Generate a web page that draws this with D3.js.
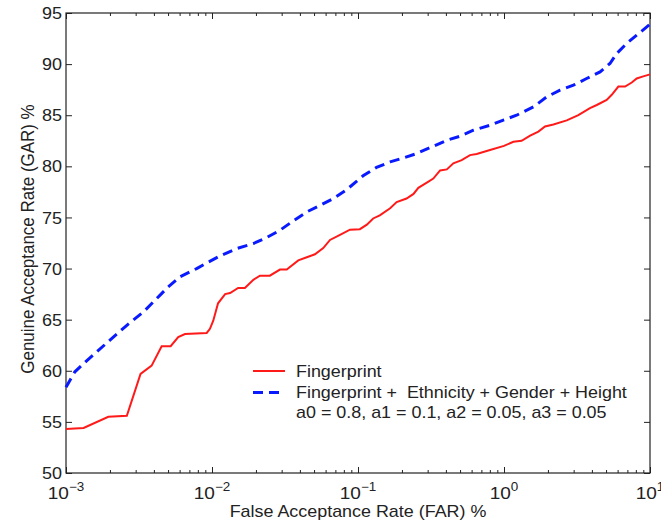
<!DOCTYPE html>
<html>
<head>
<meta charset="utf-8">
<script src="https://cdn.jsdelivr.net/npm/d3@7"></script>
<style>
  body { margin: 0; background: #fff; }
  text { font-family: "Liberation Sans", Arial, sans-serif; fill: #222; }
</style>
</head>
<body>
<div id="chart"></div>
<script>
// Fingerprint only (FAR %, GAR %)
const fpFar = [0.001, 0.00132, 0.00195, 0.00261, 0.00324, 0.00386, 0.00452, 0.00521, 0.00587, 0.00653,
  0.0092, 0.00968, 0.0102, 0.0110, 0.0123, 0.0133, 0.0151, 0.0168, 0.0192, 0.0213,
  0.0249, 0.0292, 0.0325, 0.0390, 0.0446, 0.0507, 0.0578, 0.0643, 0.0753, 0.0881,
  0.103, 0.115, 0.127, 0.141, 0.166, 0.184, 0.215, 0.240, 0.259, 0.296,
  0.328, 0.365, 0.406, 0.450, 0.513, 0.585, 0.650, 0.802, 1.0, 1.16,
  1.32, 1.51, 1.72, 1.91, 2.18, 2.69, 3.23, 3.88, 4.32, 5.05,
  5.47, 6.07, 6.75, 7.50, 8.11, 8.99, 10];
const fpGar = [54.3, 54.4, 55.5, 55.6, 59.7, 60.5, 62.4, 62.4, 63.3, 63.6,
  63.7, 64.1, 64.9, 66.6, 67.5, 67.6, 68.1, 68.1, 68.9, 69.3,
  69.3, 69.9, 69.9, 70.8, 71.1, 71.4, 72.0, 72.8, 73.3, 73.8,
  73.85, 74.3, 74.9, 75.2, 75.9, 76.5, 76.85, 77.3, 77.9, 78.4,
  78.8, 79.6, 79.7, 80.3, 80.6, 81.1, 81.2, 81.6, 82.0, 82.4,
  82.5, 83.0, 83.4, 83.9, 84.1, 84.5, 85.0, 85.7, 86.0, 86.5,
  87.0, 87.8, 87.8, 88.2, 88.6, 88.8, 89.0];

// Fingerprint + soft biometrics
const softFar = [0.001, 0.00115, 0.00139, 0.00200, 0.00261, 0.00339, 0.00441, 0.00501, 0.00604, 0.00785,
  0.0092, 0.0114, 0.0148, 0.0192, 0.0237, 0.0292, 0.0352, 0.0446, 0.055, 0.0678,
  0.0838, 0.109, 0.134, 0.166, 0.204, 0.252, 0.328, 0.406, 0.500, 0.617,
  0.802, 1.0, 1.22, 1.59, 1.96, 2.42, 2.99, 3.68, 4.55, 5.32,
  5.92, 6.92, 8.11, 10];
const softGar = [58.4, 59.9, 61.0, 63.0, 64.45, 65.75, 67.4, 68.2, 69.2, 70.0,
  70.55, 71.25, 71.96, 72.45, 73.03, 73.75, 74.56, 75.54, 76.19, 76.85,
  77.73, 79.1, 79.9, 80.43, 80.82, 81.25, 81.97, 82.55, 82.95, 83.53,
  84.02, 84.55, 85.0, 85.81, 86.79, 87.45, 87.94, 88.59, 89.24, 90.06,
  91.04, 92.02, 92.83, 93.9];

const xMajor = [0.001, 0.01, 0.1, 1, 10];
const xExp = ["\u22123", "\u22122", "\u22121", "0", "1"];
const yTicks = [50, 55, 60, 65, 70, 75, 80, 85, 90, 95];
const legendLabels = ["Fingerprint", "Fingerprint +  Ethnicity + Gender + Height", "a0 = 0.8, a1 = 0.1, a2 = 0.05, a3 = 0.05"];

const width = 661, height = 523;
const margin = { top: 13, right: 11, bottom: 50, left: 66 };
const iw = width - margin.left - margin.right;
const ih = height - margin.top - margin.bottom;
const stretch = 1.12; // the reference text is a bit wide

const svg = d3.select("#chart").append("svg")
    .attr("width", width)
    .attr("height", height);

const g = svg.append("g")
    .attr("transform", `translate(${margin.left},${margin.top})`);

const x = d3.scaleLog().domain([0.001, 10]).range([0, iw]);
const y = d3.scaleLinear().domain([50, 95]).range([ih, 0]);

// minor ticks for the log axis
const xMinor = [];
xMajor.slice(0, -1).forEach(m => {
    for (let k = 2; k <= 9; k++) xMinor.push(m * k);
});

function styleAxis(sel) {
    sel.select(".domain").remove();
    sel.selectAll("line").attr("stroke", "#222").attr("stroke-width", 1);
}

// bottom + top axes
g.append("g").attr("transform", `translate(0,${ih})`)
    .call(d3.axisBottom(x).tickValues(xMajor).tickSize(-6).tickFormat(""))
    .call(styleAxis);
g.append("g").attr("transform", `translate(0,${ih})`)
    .call(d3.axisBottom(x).tickValues(xMinor).tickSize(-3).tickFormat(""))
    .call(styleAxis);
g.append("g")
    .call(d3.axisTop(x).tickValues(xMajor).tickSize(-6).tickFormat(""))
    .call(styleAxis);
g.append("g")
    .call(d3.axisTop(x).tickValues(xMinor).tickSize(-3).tickFormat(""))
    .call(styleAxis);

// left + right axes
g.append("g")
    .call(d3.axisLeft(y).tickValues(yTicks).tickSize(-6).tickFormat(""))
    .call(styleAxis);
g.append("g").attr("transform", `translate(${iw},0)`)
    .call(d3.axisRight(y).tickValues(yTicks).tickSize(-6).tickFormat(""))
    .call(styleAxis);

// y tick labels
yTicks.forEach(v => {
    g.append("text")
        .attr("transform", `translate(-4,${y(v)}) scale(1.06,1)`)
        .attr("dy", "0.36em")
        .attr("text-anchor", "end")
        .attr("font-size", 17)
        .text(v);
});

// x tick labels 10^n
xMajor.forEach((v, i) => {
    const t = g.append("text")
        .attr("transform", `translate(${x(v)},${ih + 26}) scale(${stretch},1)`)
        .attr("text-anchor", "middle")
        .attr("font-size", 17);
    t.append("tspan").text("10");
    t.append("tspan")
        .attr("dy", -8)
        .attr("font-size", 12)
        .text(xExp[i]);
});

// frame
g.append("rect")
    .attr("width", iw)
    .attr("height", ih)
    .attr("fill", "none")
    .attr("stroke", "#222")
    .attr("stroke-width", 1.2);

// lines
const line = d3.line()
    .x(d => x(d[0]))
    .y(d => y(d[1]));

g.append("path")
    .datum(softFar.map((f, i) => [f, softGar[i]]))
    .attr("d", line)
    .attr("fill", "none")
    .attr("stroke", "#0a1aff")
    .attr("stroke-width", 3)
    .attr("stroke-dasharray", "10,6");

g.append("path")
    .datum(fpFar.map((f, i) => [f, fpGar[i]]))
    .attr("d", line)
    .attr("fill", "none")
    .attr("stroke", "#ff1a1a")
    .attr("stroke-width", 2);

// axis titles
svg.append("text")
    .attr("transform", `translate(${margin.left + iw / 2},517) scale(${stretch},1)`)
    .attr("text-anchor", "middle")
    .attr("font-size", 16)
    .text("False Acceptance Rate (FAR) %");

svg.append("text")
    .attr("transform", `translate(34,239) rotate(-90) scale(1.06,1.1)`)
    .attr("text-anchor", "middle")
    .attr("font-size", 16)
    .text("Genuine Acceptance Rate (GAR) %");

// legend
const legend = svg.append("g").attr("transform", "translate(253,371)");
legend.append("line")
    .attr("x1", 0).attr("x2", 32).attr("y1", 0).attr("y2", 0)
    .attr("stroke", "#ff1a1a").attr("stroke-width", 2);
legend.append("line")
    .attr("x1", 0).attr("x2", 32).attr("y1", 21.5).attr("y2", 21.5)
    .attr("stroke", "#0a1aff").attr("stroke-width", 3)
    .attr("stroke-dasharray", "10,6");
legendLabels.forEach((s, i) => {
    legend.append("text")
        .attr("transform", `translate(43,${6 + i * 20.5}) scale(${stretch},1)`)
        .attr("font-size", 16)
        .style("white-space", "pre")
        .text(s);
});
</script>
</body>
</html>
